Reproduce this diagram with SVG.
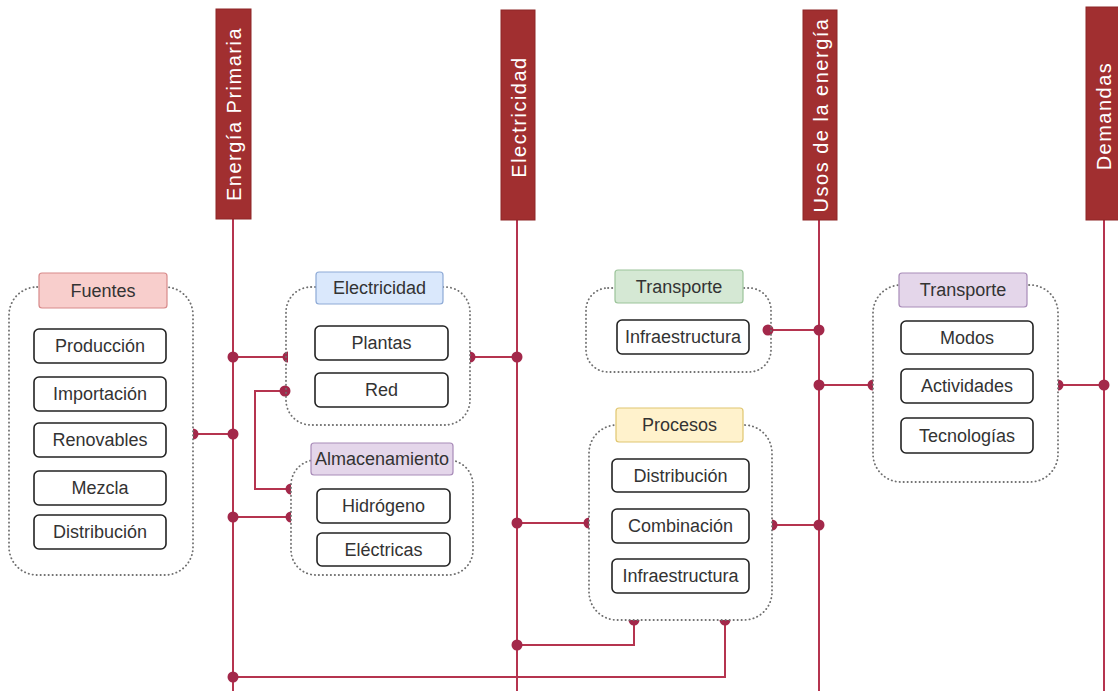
<svg xmlns="http://www.w3.org/2000/svg" width="1118" height="699" viewBox="0 0 1118 699">
<style>
.bar{fill:#a12f30;stroke:#8e2627;stroke-width:1}
.bartxt{font-family:"Liberation Sans",Arial,sans-serif;font-size:20px;fill:#ffffff;letter-spacing:1.5px;text-anchor:middle;dominant-baseline:central}
.grp{fill:none;stroke:#6f6f6f;stroke-width:1.8;stroke-dasharray:0.3 3.7;stroke-linecap:round}
.item{fill:#ffffff;stroke:#222;stroke-width:1.6}
.txt{font-family:"Liberation Sans",Arial,sans-serif;font-size:18px;fill:#333;text-anchor:middle;dominant-baseline:central}
.hdr{stroke-width:1.2}
.red{fill:#f8cecc;stroke:#d88a8a}
.blue{fill:#dae8fc;stroke:#8eaad6}
.purple{fill:#e4d6ea;stroke:#a88bb8}
.green{fill:#d5e8d4;stroke:#9cc49a}
.yellow{fill:#fff2cc;stroke:#e0c670}
.ln{fill:none;stroke:#b5344f;stroke-width:2}
.dot{fill:#a3284a}
</style>
<rect width="1118" height="699" fill="#ffffff"/>

<g id="connectors">
  <line class="ln" x1="233" y1="219" x2="233" y2="691"/>
  <line class="ln" x1="517" y1="220" x2="517" y2="691"/>
  <line class="ln" x1="819" y1="220" x2="819" y2="691"/>
  <line class="ln" x1="1104" y1="220" x2="1104" y2="691"/>
  <polyline class="ln" points="193,434 233,434"/>
  <polyline class="ln" points="233,357 286,357"/>
  <polyline class="ln" points="285,391 255,391 255,489 290,489"/>
  <polyline class="ln" points="233,517 290,517"/>
  <polyline class="ln" points="470,357 517,357"/>
  <polyline class="ln" points="517,523 588,523"/>
  <polyline class="ln" points="768,330 819,330"/>
  <polyline class="ln" points="772,525 819,525"/>
  <polyline class="ln" points="819,385 872,385"/>
  <polyline class="ln" points="1058,385 1104,385"/>
  <polyline class="ln" points="517,645 634,645 634,620"/>
  <polyline class="ln" points="233,677 725,677 725,620"/>
  <circle class="dot" cx="233" cy="434" r="5.5"/>
  <circle class="dot" cx="233" cy="357" r="5.5"/>
  <circle class="dot" cx="233" cy="517" r="5.5"/>
  <circle class="dot" cx="233" cy="677" r="5.5"/>
  <circle class="dot" cx="517" cy="357" r="5.5"/>
  <circle class="dot" cx="517" cy="523" r="5.5"/>
  <circle class="dot" cx="517" cy="645" r="5.5"/>
  <circle class="dot" cx="819" cy="330" r="5.5"/>
  <circle class="dot" cx="819" cy="385" r="5.5"/>
  <circle class="dot" cx="819" cy="525" r="5.5"/>
  <circle class="dot" cx="1104" cy="385" r="5.5"/>
  <circle class="dot" cx="285" cy="391" r="5.5"/>
  <circle class="dot" cx="768" cy="330" r="5.5"/>
  <path class="dot" d="M193 428.5 A5.5 5.5 0 0 1 193 439.5 Z"/>
  <path class="dot" d="M288 351.5 A5.5 5.5 0 0 0 288 362.5 Z"/>
  <path class="dot" d="M291 483.5 A5.5 5.5 0 0 0 291 494.5 Z"/>
  <path class="dot" d="M291 511.5 A5.5 5.5 0 0 0 291 522.5 Z"/>
  <path class="dot" d="M470 351.5 A5.5 5.5 0 0 1 470 362.5 Z"/>
  <path class="dot" d="M589 517.5 A5.5 5.5 0 0 0 589 528.5 Z"/>
  <path class="dot" d="M772 519.5 A5.5 5.5 0 0 1 772 530.5 Z"/>
  <path class="dot" d="M873 379.5 A5.5 5.5 0 0 0 873 390.5 Z"/>
  <path class="dot" d="M1058 379.5 A5.5 5.5 0 0 1 1058 390.5 Z"/>
  <path class="dot" d="M628.5 620 A5.5 5.5 0 0 0 639.5 620 Z"/>
  <path class="dot" d="M719.5 620 A5.5 5.5 0 0 0 730.5 620 Z"/>
</g>

<g id="bar-energia">
  <rect class="bar" x="216" y="9" width="35" height="210"/>
  <text class="bartxt" transform="translate(234,114) rotate(-90)">Energía Primaria</text>
</g>
<g id="bar-electricidad">
  <rect class="bar" x="501" y="10" width="34" height="210"/>
  <text class="bartxt" transform="translate(519,117) rotate(-90)">Electricidad</text>
</g>
<g id="bar-usos">
  <rect class="bar" x="803" y="10" width="34" height="210"/>
  <text class="bartxt" transform="translate(821,115) rotate(-90)">Usos de la energía</text>
</g>
<g id="bar-demandas">
  <rect class="bar" x="1086" y="7" width="36" height="213"/>
  <text class="bartxt" transform="translate(1104,116) rotate(-90)">Demandas</text>
</g>

<g id="fuentes">
  <rect class="grp" x="9" y="287" width="184" height="288" rx="28"/>
  <rect class="hdr red" x="39" y="273" width="128" height="35" rx="3"/>
  <text class="txt" x="103" y="291">Fuentes</text>
  <rect class="item" x="34" y="329" width="132" height="34" rx="5"/>
  <text class="txt" x="100" y="346">Producción</text>
  <rect class="item" x="34" y="377" width="132" height="34" rx="5"/>
  <text class="txt" x="100" y="394">Importación</text>
  <rect class="item" x="34" y="423" width="132" height="34" rx="5"/>
  <text class="txt" x="100" y="440">Renovables</text>
  <rect class="item" x="34" y="471" width="132" height="34" rx="5"/>
  <text class="txt" x="100" y="488">Mezcla</text>
  <rect class="item" x="34" y="515" width="132" height="34" rx="5"/>
  <text class="txt" x="100" y="532">Distribución</text>
</g>

<g id="electricidad">
  <rect class="grp" x="286" y="287" width="184" height="138" rx="25"/>
  <rect class="hdr blue" x="316" y="272" width="127" height="32" rx="3"/>
  <text class="txt" x="379.5" y="288">Electricidad</text>
  <rect class="item" x="315" y="326" width="133" height="34" rx="5"/>
  <text class="txt" x="381.5" y="343">Plantas</text>
  <rect class="item" x="315" y="373" width="133" height="34" rx="5"/>
  <text class="txt" x="381.5" y="390">Red</text>
</g>

<g id="almacenamiento">
  <rect class="grp" x="291" y="460" width="182" height="115" rx="25"/>
  <rect class="hdr purple" x="311" y="443" width="142" height="32" rx="3"/>
  <text class="txt" x="382" y="459">Almacenamiento</text>
  <rect class="item" x="317" y="489" width="133" height="34" rx="5"/>
  <text class="txt" x="383.5" y="506">Hidrógeno</text>
  <rect class="item" x="317" y="533" width="133" height="33" rx="5"/>
  <text class="txt" x="383.5" y="549.5">Eléctricas</text>
</g>

<g id="transporte-infra">
  <rect class="grp" x="586" y="288" width="185" height="84" rx="22"/>
  <rect class="hdr green" x="615" y="270" width="128" height="33" rx="3"/>
  <text class="txt" x="679" y="286.5">Transporte</text>
  <rect class="item" x="617" y="320" width="132" height="34" rx="5"/>
  <text class="txt" x="683" y="337">Infraestructura</text>
</g>

<g id="procesos">
  <rect class="grp" x="589" y="425" width="183" height="195" rx="28"/>
  <rect class="hdr yellow" x="616" y="408" width="127" height="34" rx="3"/>
  <text class="txt" x="679.5" y="425">Procesos</text>
  <rect class="item" x="612" y="459" width="137" height="33" rx="5"/>
  <text class="txt" x="680.5" y="475.5">Distribución</text>
  <rect class="item" x="612" y="509" width="137" height="34" rx="5"/>
  <text class="txt" x="680.5" y="526">Combinación</text>
  <rect class="item" x="612" y="559" width="137" height="34" rx="5"/>
  <text class="txt" x="680.5" y="576">Infraestructura</text>
</g>

<g id="transporte-demanda">
  <rect class="grp" x="873" y="285" width="185" height="197" rx="28"/>
  <rect class="hdr purple" x="899" y="273" width="128" height="34" rx="3"/>
  <text class="txt" x="963" y="290">Transporte</text>
  <rect class="item" x="901" y="321" width="132" height="33" rx="5"/>
  <text class="txt" x="967" y="337.5">Modos</text>
  <rect class="item" x="901" y="369" width="132" height="34" rx="5"/>
  <text class="txt" x="967" y="386">Actividades</text>
  <rect class="item" x="901" y="418" width="132" height="35" rx="5"/>
  <text class="txt" x="967" y="435.5">Tecnologías</text>
</g>
</svg>
